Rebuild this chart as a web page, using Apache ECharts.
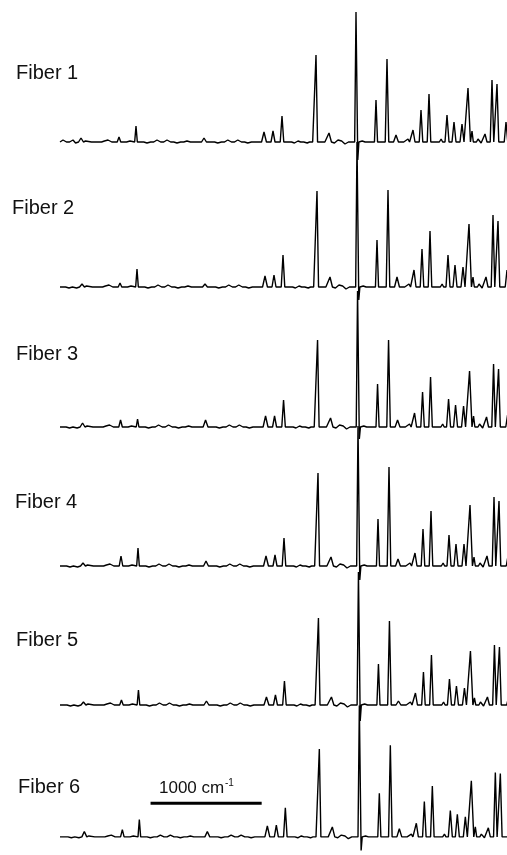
<!DOCTYPE html>
<html>
<head>
<meta charset="utf-8">
<title>Fiber spectra</title>
<script src="https://cdn.jsdelivr.net/npm/echarts@6/dist/echarts.min.js"></script>
<style>
html, body { margin: 0; padding: 0; background: #fff; }
#main { width: 507px; height: 855px; }
</style>
</head>
<body>
<div id="main"></div>
<script>
// names of the six traces, top to bottom
const fiberNames = ['Fiber 1', 'Fiber 2', 'Fiber 3', 'Fiber 4', 'Fiber 5', 'Fiber 6'];

// band positions (cm-1 from the left end of the trace); 2680 is the dip under the main band
const peakPos   = [189, 531, 684, 1296, 1836, 1917, 1998, 2304, 2421, 2664, 2680, 2844, 2943, 3024, 3177, 3249, 3321, 3483, 3546, 3618, 3672, 3708, 3825, 3888, 3933, 4014];
const peakWidth = [22, 16, 12, 22, 22, 18, 16, 14, 22, 12, 10, 14, 16, 22, 18, 16, 16, 18, 18, 18, 22, 12, 18, 16, 16, 16];

// band heights for each fiber (same order as peakPos)
const fiber1 = [4, 5, 16, 4, 10, 11, 26, 87, 9, 130, -18, 42, 83, 7, 12, 32, 48, 27, 20, 18, 54, 11, 8, 62, 58, 20];
const fiber2 = [3, 4, 18, 3, 11, 12, 32, 96, 10, 145, -13, 47, 97, 10, 17, 38, 56, 32, 22, 20, 63, 10, 10, 72, 66, 17];
const fiber3 = [4, 7, 8, 7, 11, 11, 27, 87, 9, 136, -12, 43, 87, 7, 14, 35, 50, 28, 22, 21, 56, 11, 10, 63, 58, 12];
const fiber4 = [3, 10, 18, 5, 10, 11, 28, 93, 9, 140, -14, 47, 99, 7, 13, 37, 55, 31, 22, 22, 61, 9, 10, 69, 65, 10];
const fiber5 = [3, 5, 15, 4, 8, 10, 24, 87, 8, 133, -16, 41, 84, 4, 12, 33, 50, 26, 19, 17, 54, 7, 8, 60, 58, 7];
const fiber6 = [6, 8, 19, 6, 12, 13, 32, 97, 11, 145, -15, 48, 101, 9, 15, 39, 56, 29, 25, 22, 62, 11, 10, 71, 70, 11];

// small drift of the band positions from fiber to fiber (cm-1)
const fiberShift = [0, 9, 14, 18, 22, 30];

// small wiggles of the baseline
const noisePos    = [27, 72, 117, 140, 230, 297, 360, 400, 432, 480, 585, 630, 740, 783, 830, 873, 920, 963, 1010, 1053, 1100, 1143, 1188, 1240, 1377, 1420, 1467, 1510, 1557, 1600, 1647, 1690, 1737, 2070, 2110, 2142, 2180, 2225, 2260, 2370, 2470, 2502, 2535, 2565, 2610, 2720, 2760, 2790, 3080, 3110, 3132, 3370, 3400, 3430, 3762, 3790];
const noiseHeight = [2, -1, 2, -1, 1, 2, -1, 1, 2, -1, 2, 1, 2, -1, 1, 2, -1, 2, 1, -1, 2, 1, 2, -1, 2, -1, 1, 2, -1, 2, 1, -1, 2, 2, -1, 1, 2, -1, 1, 2, -1, 2, 1, -2, 2, 1, 2, -1, 2, -1, 3, 2, -1, 3, 3, -1];

// scale bar
const scaleBar = [815, 1815];
const scaleLabel = '1000 cm';
const scaleSup = '-1';

const fibers = [fiber1, fiber2, fiber3, fiber4, fiber5, fiber6];

var xMax = 4023;
var baselines = [142, 287, 427, 566, 705, 850];
var labelX = [16, 12, 16, 15, 16, 18];
var labelY = [74, 209, 355, 503, 641, 788];

// turn the band table into the vertices of the trace
function buildTrace(heights, shift) {
    var items = [];
    peakPos.forEach(function (x, i) {
        items.push({ x: x + shift, h: heights[i], w: peakWidth[i] });
    });
    noisePos.forEach(function (x, i) {
        items.push({ x: x + shift, h: noiseHeight[i], w: 14 });
    });
    items.sort(function (a, b) { return a.x - b.x; });
    var pts = [[0, 0]];
    items.forEach(function (p, i) {
        var prev = items[i - 1], next = items[i + 1];
        if (!prev || prev.x + prev.w < p.x - p.w) pts.push([p.x - p.w, 0]);
        pts.push([p.x, p.h]);
        if (!next || p.x + p.w < next.x - next.w) pts.push([p.x + p.w, 0]);
    });
    if (pts[pts.length - 1][0] < xMax) pts.push([xMax, 0]);
    return pts;
}

var chart = echarts.init(document.getElementById('main'), null, { renderer: 'canvas' });

var grids = [], xAxes = [], yAxes = [], series = [], graphics = [];
fibers.forEach(function (h, i) {
    grids.push({ left: 60, width: 447, top: baselines[i] - 140, height: 160 });
    xAxes.push({ type: 'value', gridIndex: i, min: 0, max: xMax, show: false });
    yAxes.push({ type: 'value', gridIndex: i, min: -20, max: 140, show: false });
    series.push({
        type: 'line',
        xAxisIndex: i,
        yAxisIndex: i,
        data: buildTrace(h, fiberShift[i]),
        showSymbol: false,
        clip: false,
        silent: true,
        lineStyle: { color: '#000', width: 1.4 }
    });
    graphics.push({
        type: 'text',
        left: labelX[i],
        top: labelY[i] - 11,
        style: { text: fiberNames[i], fill: '#111', font: '20px "Liberation Sans", Arial, sans-serif' }
    });
});

// scale bar sits in the last panel
series.push({
    type: 'line',
    xAxisIndex: 5,
    yAxisIndex: 5,
    data: [[scaleBar[0], 37], [scaleBar[1], 37]],
    showSymbol: false,
    silent: true,
    lineStyle: { color: '#000', width: 3 }
});
graphics.push({
    type: 'text', left: 159, top: 780,
    style: { text: scaleLabel, fill: '#111', font: '17px "Liberation Sans", Arial, sans-serif' }
});
graphics.push({
    type: 'text', left: 225, top: 778,
    style: { text: scaleSup, fill: '#111', font: '10px "Liberation Sans", Arial, sans-serif' }
});

chart.setOption({
    animation: false,
    backgroundColor: '#fff',
    grid: grids,
    xAxis: xAxes,
    yAxis: yAxes,
    series: series,
    graphic: graphics
});
</script>
</body>
</html>
